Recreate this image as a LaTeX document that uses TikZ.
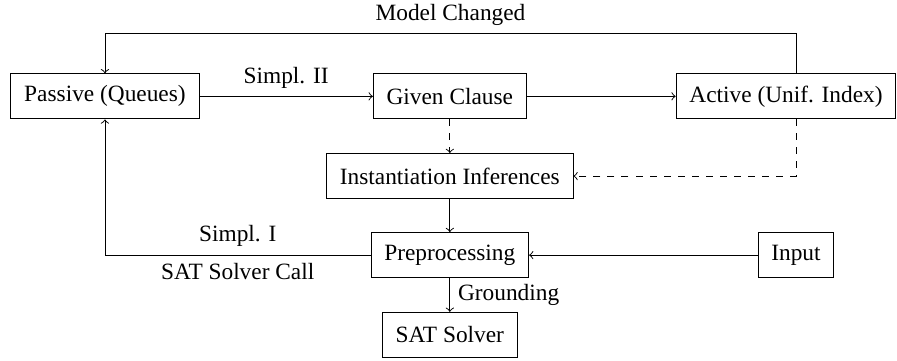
\documentclass[tikz,border=0pt]{standalone}
\usepackage{fontspec}
\setmainfont{Liberation Serif}
\usetikzlibrary{positioning,calc}

\begin{document}
\begin{tikzpicture}[
  block/.style={draw, rectangle, minimum height=0.68cm, inner xsep=0.2cm, font=\normalsize},
  arrow/.style={->},
  label/.style={font=\normalsize},
]
\useasboundingbox (0,0) rectangle (13.5,5.42);

% === Main row ===
\node[block] (passive) at (1.58, 3.97) {Passive (Queues)};
\node[block] (given) at (6.77, 3.97) {Given Clause};
\node[block] (active) at (11.83, 3.97) {Active (Unif. Index)};

% === Middle column ===
\node[block] (inst) at (6.77, 2.77) {Instantiation Inferences};
\node[block] (prep) at (6.77, 1.58) {Preprocessing};
\node[block] (input) at (11.98, 1.58) {Input};
\node[block] (sat) at (6.77, 0.38) {SAT Solver};

\draw[arrow] (passive) -- node[label, above] {Simpl. II} (given);
\draw[arrow] (given) -- (active);
\draw[arrow, dashed] (given) -- (inst);
\draw[arrow, dashed] (active.south -| input.north) |- (inst.east);
\draw[arrow] (active.north -| input.north) -- ++(0,0.6) -| node[label, pos=0.25, above] {Model Changed} (passive.north);

\draw[arrow] (inst) -- (prep);
\draw[arrow] (input) -- (prep);
\draw[arrow] (prep) -- node[label, right] {Grounding} (sat);
\draw[arrow] (prep.west) -| node[label, pos=0.25, above] {Simpl. I} node[label, pos=0.25, below] {SAT Solver Call} (passive.south);

\end{tikzpicture}
\end{document}
